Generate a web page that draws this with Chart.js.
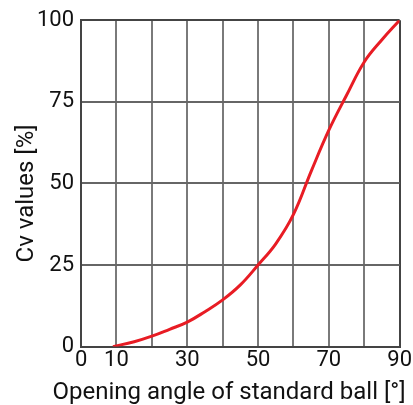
<!DOCTYPE html>
<html>
<head>
<meta charset="utf-8">
<script src="https://cdn.jsdelivr.net/npm/chart.js@4/dist/chart.umd.min.js"></script>
<style>
html,body{margin:0;padding:0;background:#fff;}
#wrap{width:413px;height:405px;}
</style>
</head>
<body>
<div id="wrap"><canvas id="c" width="413" height="405"></canvas></div>
<script>
const angles = [9, 15, 20, 25, 30, 35, 40, 45, 50, 55, 60, 65, 70, 75, 80, 85, 90];
const cvValues = [0, 1.5, 3.2, 5.3, 7.5, 10.7, 14.3, 18.9, 25, 31.5, 40.5, 53.7, 66.3, 77, 87.2, 94, 100];
const xTickLabels = [0, 10, 30, 50, 70, 90];
const yTickLabels = [0, 25, 50, 75, 100];
const xTitle = 'Opening angle of standard ball [°]';
const yTitle = 'Cv values [%]';

const FONT = 'Roboto';
const TICK_SIZE = 22;
const TITLE_SIZE = 24;
Chart.defaults.font.family = FONT;
Chart.defaults.color = '#111';

const axisTitlePlugin = {
  id: 'axisTitles',
  afterDraw(chart) {
    const {ctx, chartArea} = chart;
    ctx.save();
    ctx.font = TITLE_SIZE + 'px ' + FONT;
    ctx.fillStyle = '#111';
    ctx.textAlign = 'center';
    ctx.textBaseline = 'middle';
    // x title
    ctx.fillText(xTitle, chartArea.left + 148, chartArea.bottom + 46);
    // y title
    ctx.translate(chartArea.left - 54, (chartArea.top + chartArea.bottom) / 2 + 10);
    ctx.rotate(-Math.PI / 2);
    ctx.fillText(yTitle, 0, 0);
    ctx.restore();
  }
};

new Chart(document.getElementById('c'), {
  type: 'line',
  data: {
    datasets: [{
      data: angles.map((a, i) => ({x: a, y: cvValues[i]})),
      borderColor: '#e81c24',
      borderWidth: 3,
      pointRadius: 0,
      tension: 0.4,
      fill: false
    }]
  },
  options: {
    responsive: false,
    devicePixelRatio: 1,
    animation: false,
    layout: {padding: {left: 30, right: 1.5, top: 4, bottom: 30}},
    plugins: {legend: {display: false}, tooltip: {enabled: false}},
    scales: {
      x: {
        type: 'linear', min: 0, max: 90,
        ticks: {
          stepSize: 10, autoSkip: false, maxRotation: 0, padding: 1,
          font: {size: TICK_SIZE},
          color: '#111',
          callback: v => xTickLabels.includes(v) ? String(v) : ''
        },
        grid: {
          color: ctx => (ctx.tick && (ctx.tick.value === 90 || ctx.tick.value === 0)) ? '#444' : '#7a7a7a',
          lineWidth: 2, drawTicks: false
        },
        border: {color: '#444', width: 2},
        title: {display: false}
      },
      y: {
        min: 0, max: 100,
        afterBuildTicks: axis => { axis.ticks = yTickLabels.map(v => ({value: v})); },
        ticks: {font: {size: TICK_SIZE}, color: '#111', padding: 7},
        grid: {
          color: ctx => (ctx.tick && ctx.tick.value === 100) ? '#444' : '#666',
          lineWidth: 2, drawTicks: false
        },
        border: {color: '#444', width: 2},
        title: {display: false}
      }
    }
  },
  plugins: [axisTitlePlugin]
});
</script>
</body>
</html>
